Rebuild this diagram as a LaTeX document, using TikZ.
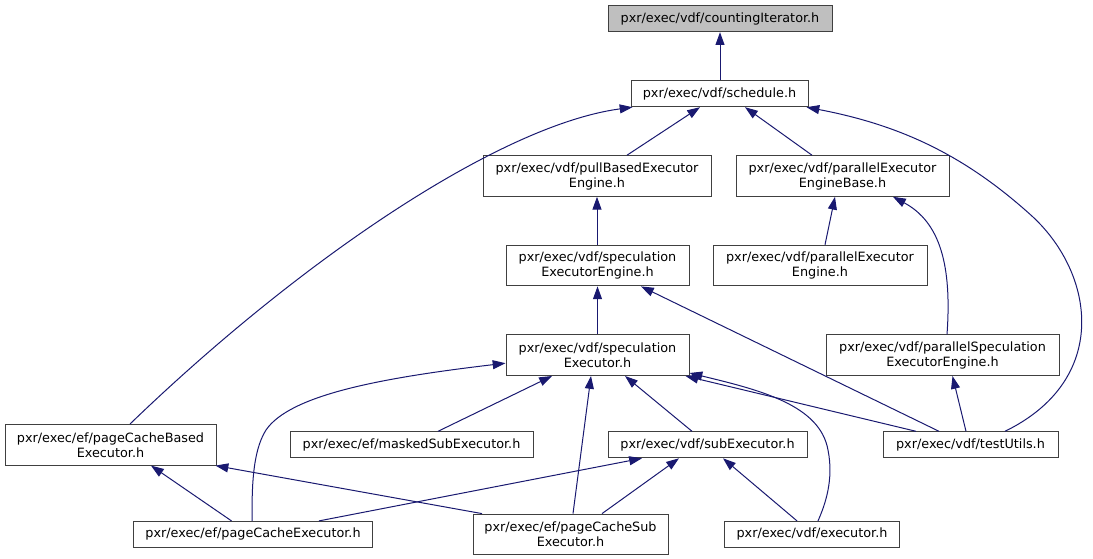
\documentclass[tikz,border=0pt]{standalone}
\usepackage{fontspec}
\setmainfont{DejaVu Sans}
\usetikzlibrary{arrows.meta}
\definecolor{edgeblue}{HTML}{191970}
\definecolor{boxline}{HTML}{404040}
\definecolor{rootfill}{HTML}{BFBFBF}
\tikzset{
  filebox/.style={draw=boxline, line width=1pt, fill=white, inner sep=0pt, align=center,
    font=\fontsize{12.8pt}{15pt}\selectfont},
  onebox/.style={filebox, minimum height=26pt},
  twobox/.style={filebox, minimum height=40.6pt},
  inc/.style={draw=edgeblue, line width=1pt, {Triangle[length=12.8pt,width=9pt]}-}
}
\begin{document}
\begin{tikzpicture}[x=1pt,y=-1pt]
\useasboundingbox (0,0) rectangle (1093,559);
% nodes
\node[onebox, fill=rootfill, minimum width=224pt] (ci) at (720,18.7) {pxr/exec/vdf/countingIterator.h};
\node[onebox, minimum width=177pt] (sched) at (719.5,93.7) {pxr/exec/vdf/schedule.h};
\node[twobox, minimum width=228pt] (pull) at (597,176) {pxr/exec/vdf/pullBasedExecutor\\Engine.h};
\node[twobox, minimum width=213pt] (pbase) at (842.5,176) {pxr/exec/vdf/parallelExecutor\\EngineBase.h};
\node[twobox, minimum width=183pt] (specE) at (597.5,265.6) {pxr/exec/vdf/speculation\\ExecutorEngine.h};
\node[twobox, minimum width=214pt] (pexE) at (820,265.6) {pxr/exec/vdf/parallelExecutor\\Engine.h};
\node[twobox, minimum width=183pt] (specX) at (597.5,355.2) {pxr/exec/vdf/speculation\\Executor.h};
\node[twobox, minimum width=233pt] (pspec) at (942.5,355.2) {pxr/exec/vdf/parallelSpeculation\\ExecutorEngine.h};
\node[twobox, minimum width=211pt] (pcb) at (110.5,444.8) {pxr/exec/ef/pageCacheBased\\Executor.h};
\node[onebox, minimum width=243pt] (masked) at (411.5,444.8) {pxr/exec/ef/maskedSubExecutor.h};
\node[onebox, minimum width=199pt] (subx) at (707.5,444.8) {pxr/exec/vdf/subExecutor.h};
\node[onebox, minimum width=175pt] (test) at (970.5,444.8) {pxr/exec/vdf/testUtils.h};
\node[onebox, minimum width=239pt] (pce) at (253,534.4) {pxr/exec/ef/pageCacheExecutor.h};
\node[twobox, minimum width=195pt] (pcs) at (570.5,534.4) {pxr/exec/ef/pageCacheSub\\Executor.h};
\node[onebox, minimum width=175pt] (exec) at (812,534.4) {pxr/exec/vdf/executor.h};
% edges (arrow at included file)
\draw[inc] (ci.south) -- (ci.south |- sched.north);
\draw[inc] ([xshift=-19.5pt]sched.south) -- ([xshift=30pt]pull.north);
\draw[inc] ([xshift=25.5pt]sched.south) -- ([xshift=-30.5pt]pbase.north);
\draw[inc] ([xshift=2pt]sched.south west) .. controls (500,125) and (300,260) .. ([xshift=19.5pt]pcb.north);
\draw[inc] ([xshift=-2pt]sched.south east) .. controls (900,125) and (965,155) .. (1033,217)
   .. controls (1095,275) and (1110,380) .. ([xshift=34.5pt]test.north);
\draw[inc] (pull.south) -- (pull.south |- specE.north);
\draw[inc] ([xshift=-7.5pt]pbase.south) -- ([xshift=5pt]pexE.north);
\draw[inc] ([xshift=50.5pt]pbase.south) .. controls (940,222) and (952,265) .. ([xshift=4.5pt]pspec.north);
\draw[inc] (specE.south) -- (specE.south |- specX.north);
\draw[inc] ([xshift=43.5pt]specE.south) -- ([xshift=-31.5pt]test.north);
\draw[inc] ([xshift=10pt]pspec.south) -- ([xshift=-4.5pt]test.north);
\draw[inc] ([xshift=-45.5pt]specX.south) -- ([xshift=26.5pt]masked.north);
\draw[inc] ([xshift=-6.5pt]specX.south) -- ([xshift=2.5pt]pcs.north);
\draw[inc] ([xshift=27.5pt]specX.south) -- ([xshift=-15.5pt]subx.north);
\draw[inc] ([xshift=-4pt]specX.south east) -- ([xshift=-54.5pt]test.north);
\draw[inc] ([yshift=3pt]specX.south east) .. controls (760,390) and (820,405) .. (828,450)
   .. controls (834,480) and (825,505) .. ([xshift=6pt]exec.north);
\draw[inc] ([yshift=-8pt]specX.west) .. controls (380,378) and (290,395) .. (266,430)
   .. controls (252,452) and (252,490) .. ([xshift=-1pt]pce.north);
\draw[inc] ([xshift=40.5pt]pcb.south) -- ([xshift=-21.5pt]pce.north);
\draw[inc] ([xshift=-1pt]pcb.south east) -- ([xshift=-88.5pt]pcs.north);
\draw[inc] ([xshift=-65.5pt]subx.south) -- ([xshift=66pt]pce.north);
\draw[inc] ([xshift=-28.5pt]subx.south) -- ([xshift=31.5pt]pcs.north);
\draw[inc] ([xshift=15.5pt]subx.south) -- ([xshift=-15pt]exec.north);
\end{tikzpicture}
\end{document}
